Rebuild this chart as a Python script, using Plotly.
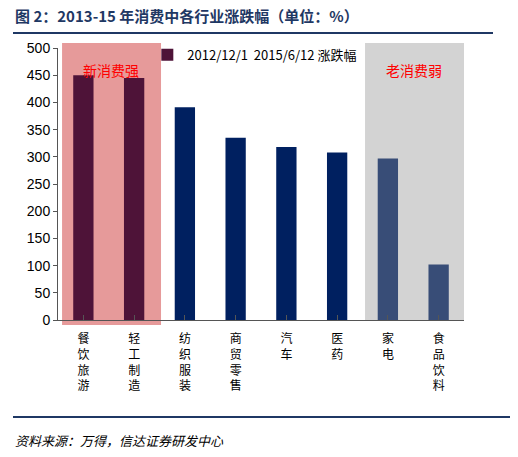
import plotly.graph_objects as go

categories = ["餐饮旅游", "轻工制造", "纺织服装", "商贸零售", "汽车", "医药", "家电", "食品饮料"]
values = [450, 445, 391, 335, 318, 308, 297, 102]
bar_colors = ["#4e1338", "#4e1338", "#002060", "#002060", "#002060", "#002060", "#384d77", "#384d77"]

FONT = "Noto Sans CJK SC"
tick_text = ["<br>".join(c) for c in categories]

fig = go.Figure(go.Bar(
    x=list(range(len(categories))), y=values,
    marker=dict(color=bar_colors, line=dict(width=0)),
    width=0.4, name="2012/12/1  2015/6/12 涨跌幅",
    showlegend=True,
))

# page body adds ~8px offset, so margins are shifted
W, H = 518, 457
L, R, T, B = 50, 62, 40, 145
PH = H - T - B
PW = W - L - R
fig.update_layout(
    width=W, height=H,
    margin=dict(l=L, r=R, t=T, b=B, autoexpand=False),
    paper_bgcolor="white", plot_bgcolor="white",
    font=dict(family=FONT, size=13, color="black"),
    legend=dict(orientation="h", x=0.22, y=1.03, xanchor="left", yanchor="top",
                bgcolor="rgba(0,0,0,0)", font=dict(size=13), itemwidth=30),
    xaxis=dict(range=[-0.5, 7.5], tickmode="array", tickvals=list(range(8)),
               ticktext=tick_text, ticks="inside", tickson="boundaries",
               ticklen=5, tickcolor="#555", showline=True, linecolor="#555",
               ticklabelstandoff=8,
               tickfont=dict(size=12), automargin=False, fixedrange=True),
    yaxis=dict(range=[0, 500], dtick=50, ticks="outside", ticklen=4,
               tickcolor="#555", showline=True, linecolor="#555", automargin=False,
               showgrid=False, zeroline=False, tickfont=dict(family="Liberation Sans", size=14)),
    shapes=[
        dict(type="rect", xref="x", yref="paper", x0=-0.42, x1=1.53, y0=-0.018, y1=1.018,
             fillcolor="#e69a9a", line=dict(width=0), layer="below"),
        dict(type="rect", xref="x", yref="paper", x0=5.55, x1=7.5, y0=0, y1=1.018,
             fillcolor="#d3d3d3", line=dict(width=0), layer="below"),
        dict(type="line", xref="paper", yref="paper",
             x0=-(L - 5) / PW, x1=1 + (R - 33) / PW,
             y0=1 + 15 / PH, y1=1 + 15 / PH,
             line=dict(color="#1f3864", width=2)),
        dict(type="line", xref="paper", yref="paper",
             x0=-(L - 5) / PW, x1=1 + (R - 13) / PW,
             y0=-(417 - 320) / PH, y1=-(417 - 320) / PH,
             line=dict(color="#1f3864", width=2)),
    ],
    annotations=[
        dict(text="<b>图 2：2013-15 年消费中各行业涨跌幅（单位：%）</b>", xref="paper", yref="paper",
             x=-(L - 5) / PW, y=1 + 32 / PH,
             xanchor="left", yanchor="middle", showarrow=False,
             font=dict(size=15, color="#1f3864")),
        dict(text="新消费强", xref="x", yref="paper", x=0.55, y=1 - 10 / PH, showarrow=False,
             font=dict(size=14, color="red")),
        dict(text="老消费弱", xref="x", yref="paper", x=6.52, y=1 - 10 / PH, showarrow=False,
             font=dict(size=14, color="red")),
        dict(text="<i>资料来源：万得，信达证券研发中心</i>", xref="paper", yref="paper",
             x=-(L - 5) / PW, y=-(440 - 320) / PH,
             xanchor="left", yanchor="middle", showarrow=False,
             font=dict(size=13, color="black")),
    ],
)

fig.write_html("out.html")
